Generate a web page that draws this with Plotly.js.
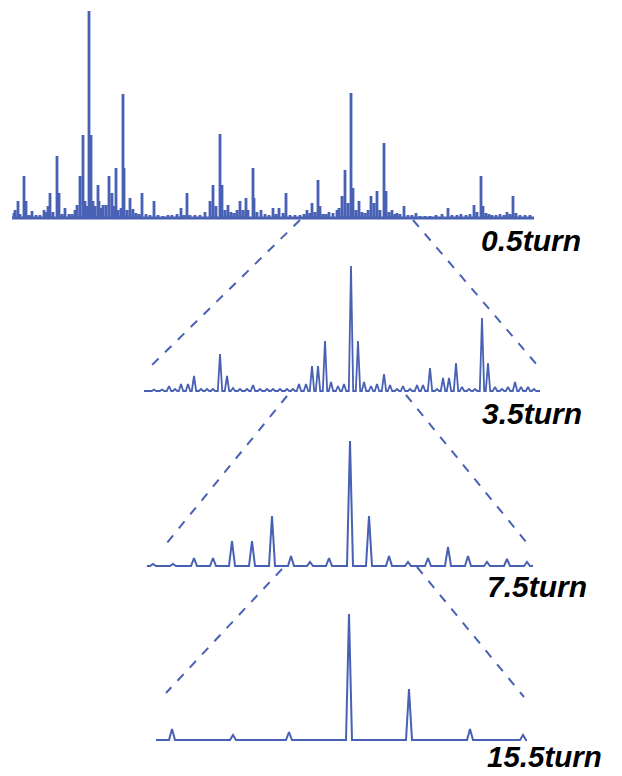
<!DOCTYPE html>
<html>
<head>
<meta charset="utf-8">
<script src="https://cdn.plot.ly/plotly-3.0.1.min.js"></script>
<style>html,body{margin:0;padding:0;background:#fff;}#chart{width:622px;height:776px;}</style>
</head>
<body>
<div id="chart"></div>
<script>
// ---------------- data (peak positions and intensities) ----------------
const turns = ['0.5turn', '3.5turn', '7.5turn', '15.5turn'];

const pos05 = [14,15,18,20,24,26,29,32,36,40,44,46,48,50,53,57,59,62,65,69,72,75,77,80,83,85,87,89,91,93,95,98,99,101,103,106,109,112,114,116,118,121,123,124,127,130,133,136,139,142,146,150,154,158,163,168,172,177,181,184,187,190,195,200,205,210,213,216,220,222,225,228,231,234,237,240,243,246,248,253,254,257,261,265,269,273,276,279,283,286,290,295,300,304,307,310,312,315,318,320,323,326,329,333,337,339,342,345,348,351,353,356,359,362,365,368,371,374,377,380,384,386,389,392,395,397,400,404,408,412,416,420,425,430,436,442,448,452,457,461,466,470,474,477,481,483,486,489,492,496,500,504,507,510,513,516,520,525,530];
const int05 = [5,8,17,4,42,17,3,7,3,3,8,6,12,25,6,62,25,4,10,4,4,8,13,42,83,17,12,207,83,17,12,33,17,10,13,13,42,25,12,50,8,10,124,50,8,20,9,5,4,25,4,3,17,3,2,3,3,4,10,3,25,3,3,3,6,17,33,12,84,33,8,13,6,5,8,17,8,20,8,50,20,6,8,4,3,10,4,10,5,25,3,3,3,4,8,5,15,6,38,12,4,4,6,5,8,10,22,48,15,125,30,8,17,6,5,8,22,15,27,8,75,27,6,8,4,5,4,12,3,3,5,2,2,2,3,4,10,3,3,4,3,4,13,6,42,12,5,4,3,3,4,3,6,4,22,5,3,3,3];

const pos35 = [154,162,169,175,181,188,194,201,207,213,220,227,233,240,247,253,260,267,273,280,287,293,299,306,312,318,325,331,338,344,351,358,364,371,377,384,390,397,403,410,417,423,430,437,443,449,456,462,469,475,482,488,495,502,508,515,521,528,534];
const int35 = [1.5,1.5,5,2,7,7,15,2,2,2,37,15,3,2,2,6,2,2,2,2,2,2,7,7,25,25,50,9,5,7,125,50,9,5,7,17,6,2,5,2,6,6,23,2,13,13,28,4,2,2,73,28,4,2,4,9,4,4,2];

const pos75 = [153,173,194,213,232,252,272,291,310,329,350,369,389,408,428,448,468,487,507,527];
const int75 = [2,2,8,8,25,25,50,10,4,8,125,50,10,4,8,19,10,4,7,4];

const pos155 = [172,233,289,349,409,470,523];
const int155 = [11,5,8,126,51,11,5];

// ---------------- layout geometry (pixels of the 622x776 page) ----------------
const W = 622, H = 776;
const panels = [
  {x0: 12,  x1: 534, base: 218, top: 212, lw: 2.8, half: 0,   label: {x: 583, y: 240, size: 30}},
  {x0: 144, x1: 540, base: 391, top: 128, lw: 1.8, half: 2.2, label: {x: 584, y: 413, size: 30}},
  {x0: 147, x1: 533, base: 566, top: 128, lw: 2.0, half: 3.0, label: {x: 589, y: 586, size: 30}},
  {x0: 156, x1: 527, base: 740, top: 128, lw: 2.0, half: 3.0, label: {x: 604, y: 756, size: 29.5}}
];
const seriesPos = [pos05, pos35, pos75, pos155];
const seriesInt = [int05, int35, int75, int155];
const dashes = [
  [300, 220, 151, 366], [413, 220, 538, 366],
  [287, 396, 162, 549], [406, 395, 527, 543],
  [282, 569, 166, 693], [417, 567, 524, 697]
];
const blue = '#4861b4';
const bottomPad = 5;

const px = v => v / W;
const py = v => 1 - v / H;

const traces = [];
const layout = {
  width: W, height: H,
  margin: {l: 0, r: 0, t: 0, b: 0},
  paper_bgcolor: '#ffffff', plot_bgcolor: 'rgba(0,0,0,0)',
  showlegend: false,
  shapes: [], annotations: []
};

panels.forEach((p, i) => {
  const pos = seriesPos[i], val = seriesInt[i];
  const xs = [p.x0], ys = [0];
  pos.forEach((x, k) => {
    if (p.half === 0) { xs.push(x, x, x); ys.push(0, val[k], 0); }
    else { xs.push(x - p.half, x, x + p.half); ys.push(0, val[k], 0); }
  });
  xs.push(p.x1); ys.push(0);
  const sfx = i === 0 ? '' : String(i + 1);
  traces.push({
    type: 'scatter', mode: 'lines', x: xs, y: ys,
    xaxis: 'x' + sfx, yaxis: 'y' + sfx,
    line: {color: blue, width: p.lw},
    hoverinfo: 'skip'
  });
  layout['xaxis' + sfx] = {
    domain: [px(p.x0 - 2), px(p.x1 + 2)], range: [p.x0 - 2, p.x1 + 2],
    visible: false, fixedrange: true, anchor: 'y' + sfx
  };
  layout['yaxis' + sfx] = {
    domain: [py(p.base + bottomPad), py(p.base - p.top)], range: [-bottomPad, p.top],
    visible: false, fixedrange: true, anchor: 'x' + sfx
  };
  layout.annotations.push({
    xref: 'paper', yref: 'paper', x: px(p.label.x), y: py(p.label.y),
    xanchor: 'right', yanchor: 'middle', showarrow: false,
    text: turns[i],
    font: {family: "'Liberation Sans', Arial, sans-serif",
           size: p.label.size, color: '#000000', weight: 'bold', style: 'italic'}
  });
});

dashes.forEach(d => {
  layout.shapes.push({
    type: 'line', xref: 'paper', yref: 'paper',
    x0: px(d[0]), y0: py(d[1]), x1: px(d[2]), y1: py(d[3]),
    line: {color: blue, width: 2, dash: 'dash'}
  });
});

Plotly.newPlot('chart', traces, layout, {displayModeBar: false, staticPlot: true});
</script>
</body>
</html>
